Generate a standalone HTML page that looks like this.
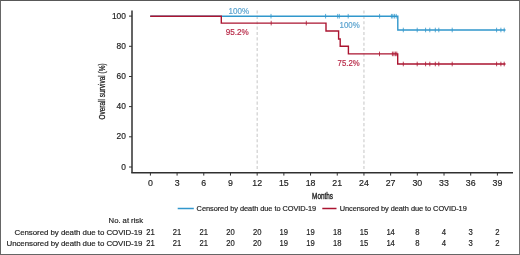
<!DOCTYPE html>
<html><head><meta charset="utf-8"><style>
html,body{margin:0;padding:0;background:#fff;}
body{width:520px;height:255px;overflow:hidden;}
.f{position:absolute;left:0;top:0;width:518px;height:253px;border:1px solid #666;border-top-color:#585858;border-right-color:#747474;}
svg{position:absolute;left:0;top:0;will-change:transform;}
text{font-family:"Liberation Sans", sans-serif;fill:#1e1e1e;stroke:#1e1e1e;stroke-width:0.18px;}
</style></head><body>
<div class="f"></div>
<svg width="520" height="255" viewBox="0 0 520 255">
<line x1="132.0" y1="10.5" x2="132.0" y2="172.8" stroke="#303030" stroke-width="1.5"/>
<line x1="131.25" y1="172.8" x2="513" y2="172.8" stroke="#303030" stroke-width="1.5"/>
<line x1="129" y1="16.10" x2="132.0" y2="16.10" stroke="#303030" stroke-width="1"/>
<text x="125.9" y="18.70" text-anchor="end" font-size="8.4">100</text>
<line x1="129" y1="46.30" x2="132.0" y2="46.30" stroke="#303030" stroke-width="1"/>
<text x="125.9" y="48.90" text-anchor="end" font-size="8.4">80</text>
<line x1="129" y1="76.50" x2="132.0" y2="76.50" stroke="#303030" stroke-width="1"/>
<text x="125.9" y="79.10" text-anchor="end" font-size="8.4">60</text>
<line x1="129" y1="106.60" x2="132.0" y2="106.60" stroke="#303030" stroke-width="1"/>
<text x="125.9" y="109.20" text-anchor="end" font-size="8.4">40</text>
<line x1="129" y1="136.80" x2="132.0" y2="136.80" stroke="#303030" stroke-width="1"/>
<text x="125.9" y="139.40" text-anchor="end" font-size="8.4">20</text>
<line x1="129" y1="167.00" x2="132.0" y2="167.00" stroke="#303030" stroke-width="1"/>
<text x="125.9" y="169.60" text-anchor="end" font-size="8.4">0</text>
<line x1="150.40" y1="172.8" x2="150.40" y2="175.6" stroke="#303030" stroke-width="1"/>
<text x="150.40" y="185.6" text-anchor="middle" font-size="8.8">0</text>
<line x1="177.09" y1="172.8" x2="177.09" y2="175.6" stroke="#303030" stroke-width="1"/>
<text x="177.09" y="185.6" text-anchor="middle" font-size="8.8">3</text>
<line x1="203.78" y1="172.8" x2="203.78" y2="175.6" stroke="#303030" stroke-width="1"/>
<text x="203.78" y="185.6" text-anchor="middle" font-size="8.8">6</text>
<line x1="230.48" y1="172.8" x2="230.48" y2="175.6" stroke="#303030" stroke-width="1"/>
<text x="230.48" y="185.6" text-anchor="middle" font-size="8.8">9</text>
<line x1="257.17" y1="172.8" x2="257.17" y2="175.6" stroke="#303030" stroke-width="1"/>
<text x="257.17" y="185.6" text-anchor="middle" font-size="8.8">12</text>
<line x1="283.86" y1="172.8" x2="283.86" y2="175.6" stroke="#303030" stroke-width="1"/>
<text x="283.86" y="185.6" text-anchor="middle" font-size="8.8">15</text>
<line x1="310.55" y1="172.8" x2="310.55" y2="175.6" stroke="#303030" stroke-width="1"/>
<text x="310.55" y="185.6" text-anchor="middle" font-size="8.8">18</text>
<line x1="337.25" y1="172.8" x2="337.25" y2="175.6" stroke="#303030" stroke-width="1"/>
<text x="337.25" y="185.6" text-anchor="middle" font-size="8.8">21</text>
<line x1="363.94" y1="172.8" x2="363.94" y2="175.6" stroke="#303030" stroke-width="1"/>
<text x="363.94" y="185.6" text-anchor="middle" font-size="8.8">24</text>
<line x1="390.63" y1="172.8" x2="390.63" y2="175.6" stroke="#303030" stroke-width="1"/>
<text x="390.63" y="185.6" text-anchor="middle" font-size="8.8">27</text>
<line x1="417.32" y1="172.8" x2="417.32" y2="175.6" stroke="#303030" stroke-width="1"/>
<text x="417.32" y="185.6" text-anchor="middle" font-size="8.8">30</text>
<line x1="444.02" y1="172.8" x2="444.02" y2="175.6" stroke="#303030" stroke-width="1"/>
<text x="444.02" y="185.6" text-anchor="middle" font-size="8.8">33</text>
<line x1="470.71" y1="172.8" x2="470.71" y2="175.6" stroke="#303030" stroke-width="1"/>
<text x="470.71" y="185.6" text-anchor="middle" font-size="8.8">36</text>
<line x1="497.40" y1="172.8" x2="497.40" y2="175.6" stroke="#303030" stroke-width="1"/>
<text x="497.40" y="185.6" text-anchor="middle" font-size="8.8">39</text>
<line x1="257.17" y1="10.5" x2="257.17" y2="169.5" stroke="#cbcbcb" stroke-width="1.1" stroke-dasharray="3.1 2.26"/>
<line x1="363.94" y1="10.5" x2="363.94" y2="169.5" stroke="#cbcbcb" stroke-width="1.1" stroke-dasharray="3.1 2.26"/>
<path d="M150.2,16.2 H397.8 V30.0 H505.5" fill="none" stroke="#3197cc" stroke-width="1.4"/>
<line x1="271.0" y1="13.899999999999999" x2="271.0" y2="18.5" stroke="#3197cc" stroke-width="0.8"/>
<line x1="325.6" y1="13.899999999999999" x2="325.6" y2="18.5" stroke="#3197cc" stroke-width="0.8"/>
<line x1="337.7" y1="13.899999999999999" x2="337.7" y2="18.5" stroke="#3197cc" stroke-width="0.8"/>
<line x1="339.3" y1="13.899999999999999" x2="339.3" y2="18.5" stroke="#3197cc" stroke-width="0.8"/>
<line x1="348.2" y1="13.899999999999999" x2="348.2" y2="18.5" stroke="#3197cc" stroke-width="0.8"/>
<line x1="379.6" y1="13.899999999999999" x2="379.6" y2="18.5" stroke="#3197cc" stroke-width="0.8"/>
<line x1="391.4" y1="13.899999999999999" x2="391.4" y2="18.5" stroke="#3197cc" stroke-width="0.8"/>
<line x1="392.8" y1="13.899999999999999" x2="392.8" y2="18.5" stroke="#3197cc" stroke-width="0.8"/>
<line x1="394.4" y1="13.899999999999999" x2="394.4" y2="18.5" stroke="#3197cc" stroke-width="0.8"/>
<line x1="396.2" y1="13.899999999999999" x2="396.2" y2="18.5" stroke="#3197cc" stroke-width="0.8"/>
<line x1="403.3" y1="27.7" x2="403.3" y2="32.3" stroke="#3197cc" stroke-width="0.8"/>
<line x1="417.2" y1="27.7" x2="417.2" y2="32.3" stroke="#3197cc" stroke-width="0.8"/>
<line x1="425.6" y1="27.7" x2="425.6" y2="32.3" stroke="#3197cc" stroke-width="0.8"/>
<line x1="429.8" y1="27.7" x2="429.8" y2="32.3" stroke="#3197cc" stroke-width="0.8"/>
<line x1="435.3" y1="27.7" x2="435.3" y2="32.3" stroke="#3197cc" stroke-width="0.8"/>
<line x1="438.8" y1="27.7" x2="438.8" y2="32.3" stroke="#3197cc" stroke-width="0.8"/>
<line x1="452.2" y1="27.7" x2="452.2" y2="32.3" stroke="#3197cc" stroke-width="0.8"/>
<line x1="496.6" y1="27.7" x2="496.6" y2="32.3" stroke="#3197cc" stroke-width="0.8"/>
<line x1="500.9" y1="27.7" x2="500.9" y2="32.3" stroke="#3197cc" stroke-width="0.8"/>
<line x1="504.2" y1="27.7" x2="504.2" y2="32.3" stroke="#3197cc" stroke-width="0.8"/>
<path d="M150.2,16.2 H221.3 V23.1 H326.0 V31.0 H338.6 V39.0 H340.2 V46.3 H348.4 V53.9 H397.7 V64.0 H505.5" fill="none" stroke="#ab1430" stroke-width="1.4"/>
<line x1="271.2" y1="20.8" x2="271.2" y2="25.400000000000002" stroke="#ab1430" stroke-width="0.8"/>
<line x1="306.3" y1="20.8" x2="306.3" y2="25.400000000000002" stroke="#ab1430" stroke-width="0.8"/>
<line x1="379.5" y1="51.6" x2="379.5" y2="56.199999999999996" stroke="#ab1430" stroke-width="0.8"/>
<line x1="392.4" y1="51.6" x2="392.4" y2="56.199999999999996" stroke="#ab1430" stroke-width="0.8"/>
<line x1="393.9" y1="51.6" x2="393.9" y2="56.199999999999996" stroke="#ab1430" stroke-width="0.8"/>
<line x1="395.4" y1="51.6" x2="395.4" y2="56.199999999999996" stroke="#ab1430" stroke-width="0.8"/>
<line x1="396.8" y1="51.6" x2="396.8" y2="56.199999999999996" stroke="#ab1430" stroke-width="0.8"/>
<line x1="403.3" y1="61.7" x2="403.3" y2="66.3" stroke="#ab1430" stroke-width="0.8"/>
<line x1="417.2" y1="61.7" x2="417.2" y2="66.3" stroke="#ab1430" stroke-width="0.8"/>
<line x1="425.6" y1="61.7" x2="425.6" y2="66.3" stroke="#ab1430" stroke-width="0.8"/>
<line x1="429.8" y1="61.7" x2="429.8" y2="66.3" stroke="#ab1430" stroke-width="0.8"/>
<line x1="435.3" y1="61.7" x2="435.3" y2="66.3" stroke="#ab1430" stroke-width="0.8"/>
<line x1="438.8" y1="61.7" x2="438.8" y2="66.3" stroke="#ab1430" stroke-width="0.8"/>
<line x1="452.2" y1="61.7" x2="452.2" y2="66.3" stroke="#ab1430" stroke-width="0.8"/>
<line x1="496.6" y1="61.7" x2="496.6" y2="66.3" stroke="#ab1430" stroke-width="0.8"/>
<line x1="500.9" y1="61.7" x2="500.9" y2="66.3" stroke="#ab1430" stroke-width="0.8"/>
<line x1="504.2" y1="61.7" x2="504.2" y2="66.3" stroke="#ab1430" stroke-width="0.8"/>
<text x="228.6" y="13.6" font-size="8.2" textLength="20.6" lengthAdjust="spacingAndGlyphs" style="fill:#5aa3cf;stroke:#5aa3cf">100%</text>
<text x="225.8" y="34.9" font-size="8.2" textLength="23.0" lengthAdjust="spacingAndGlyphs" style="fill:#b82a48;stroke:#b82a48">95.2%</text>
<text x="339.6" y="27.6" font-size="8.2" textLength="20.2" lengthAdjust="spacingAndGlyphs" style="fill:#5aa3cf;stroke:#5aa3cf">100%</text>
<text x="337.6" y="66.0" font-size="8.2" textLength="22.0" lengthAdjust="spacingAndGlyphs" style="fill:#b82a48;stroke:#b82a48">75.2%</text>
<text x="312.1" y="198.7" font-size="9.2" textLength="20.9" lengthAdjust="spacingAndGlyphs" style="stroke-width:0.4px">Months</text>
<text transform="translate(105.4,119.6) rotate(-90)" x="0" y="0" font-size="8.8" textLength="56.2" lengthAdjust="spacingAndGlyphs" style="stroke-width:0.28px">Overall survival (%)</text>
<line x1="177.7" y1="208.5" x2="193.8" y2="208.5" stroke="#3197cc" stroke-width="1.5"/>
<text x="196.6" y="211.0" font-size="7.4" textLength="119.6" lengthAdjust="spacing">Censored by death due to COVID-19</text>
<line x1="322.3" y1="208.5" x2="336.5" y2="208.5" stroke="#ab1430" stroke-width="1.5"/>
<text x="339.7" y="211.0" font-size="7.4" textLength="127.1" lengthAdjust="spacing">Uncensored by death due to COVID-19</text>
<text x="108.6" y="222.6" font-size="7.7" textLength="34.4" lengthAdjust="spacing">No. at risk</text>
<text x="14.5" y="234.9" font-size="7.9" textLength="128.0" lengthAdjust="spacing">Censored by death due to COVID-19</text>
<text x="6.5" y="246.2" font-size="7.9" textLength="135.9" lengthAdjust="spacing">Uncensored by death due to COVID-19</text>
<text x="150.40" y="234.9" font-size="8.4" text-anchor="middle" textLength="8.5" lengthAdjust="spacingAndGlyphs">21</text>
<text x="150.40" y="246.2" font-size="8.4" text-anchor="middle" textLength="8.5" lengthAdjust="spacingAndGlyphs">21</text>
<text x="177.09" y="234.9" font-size="8.4" text-anchor="middle" textLength="8.5" lengthAdjust="spacingAndGlyphs">21</text>
<text x="177.09" y="246.2" font-size="8.4" text-anchor="middle" textLength="8.5" lengthAdjust="spacingAndGlyphs">21</text>
<text x="203.78" y="234.9" font-size="8.4" text-anchor="middle" textLength="8.5" lengthAdjust="spacingAndGlyphs">21</text>
<text x="203.78" y="246.2" font-size="8.4" text-anchor="middle" textLength="8.5" lengthAdjust="spacingAndGlyphs">21</text>
<text x="230.48" y="234.9" font-size="8.4" text-anchor="middle" textLength="8.5" lengthAdjust="spacingAndGlyphs">20</text>
<text x="230.48" y="246.2" font-size="8.4" text-anchor="middle" textLength="8.5" lengthAdjust="spacingAndGlyphs">20</text>
<text x="257.17" y="234.9" font-size="8.4" text-anchor="middle" textLength="8.5" lengthAdjust="spacingAndGlyphs">20</text>
<text x="257.17" y="246.2" font-size="8.4" text-anchor="middle" textLength="8.5" lengthAdjust="spacingAndGlyphs">20</text>
<text x="283.86" y="234.9" font-size="8.4" text-anchor="middle" textLength="8.5" lengthAdjust="spacingAndGlyphs">19</text>
<text x="283.86" y="246.2" font-size="8.4" text-anchor="middle" textLength="8.5" lengthAdjust="spacingAndGlyphs">19</text>
<text x="310.55" y="234.9" font-size="8.4" text-anchor="middle" textLength="8.5" lengthAdjust="spacingAndGlyphs">19</text>
<text x="310.55" y="246.2" font-size="8.4" text-anchor="middle" textLength="8.5" lengthAdjust="spacingAndGlyphs">19</text>
<text x="337.25" y="234.9" font-size="8.4" text-anchor="middle" textLength="8.5" lengthAdjust="spacingAndGlyphs">18</text>
<text x="337.25" y="246.2" font-size="8.4" text-anchor="middle" textLength="8.5" lengthAdjust="spacingAndGlyphs">18</text>
<text x="363.94" y="234.9" font-size="8.4" text-anchor="middle" textLength="8.5" lengthAdjust="spacingAndGlyphs">15</text>
<text x="363.94" y="246.2" font-size="8.4" text-anchor="middle" textLength="8.5" lengthAdjust="spacingAndGlyphs">15</text>
<text x="390.63" y="234.9" font-size="8.4" text-anchor="middle" textLength="8.5" lengthAdjust="spacingAndGlyphs">14</text>
<text x="390.63" y="246.2" font-size="8.4" text-anchor="middle" textLength="8.5" lengthAdjust="spacingAndGlyphs">14</text>
<text x="417.32" y="234.9" font-size="8.4" text-anchor="middle" textLength="4.3" lengthAdjust="spacingAndGlyphs">8</text>
<text x="417.32" y="246.2" font-size="8.4" text-anchor="middle" textLength="4.3" lengthAdjust="spacingAndGlyphs">8</text>
<text x="444.02" y="234.9" font-size="8.4" text-anchor="middle" textLength="4.3" lengthAdjust="spacingAndGlyphs">4</text>
<text x="444.02" y="246.2" font-size="8.4" text-anchor="middle" textLength="4.3" lengthAdjust="spacingAndGlyphs">4</text>
<text x="470.71" y="234.9" font-size="8.4" text-anchor="middle" textLength="4.3" lengthAdjust="spacingAndGlyphs">3</text>
<text x="470.71" y="246.2" font-size="8.4" text-anchor="middle" textLength="4.3" lengthAdjust="spacingAndGlyphs">3</text>
<text x="497.40" y="234.9" font-size="8.4" text-anchor="middle" textLength="4.3" lengthAdjust="spacingAndGlyphs">2</text>
<text x="497.40" y="246.2" font-size="8.4" text-anchor="middle" textLength="4.3" lengthAdjust="spacingAndGlyphs">2</text>
</svg>
</body></html>
